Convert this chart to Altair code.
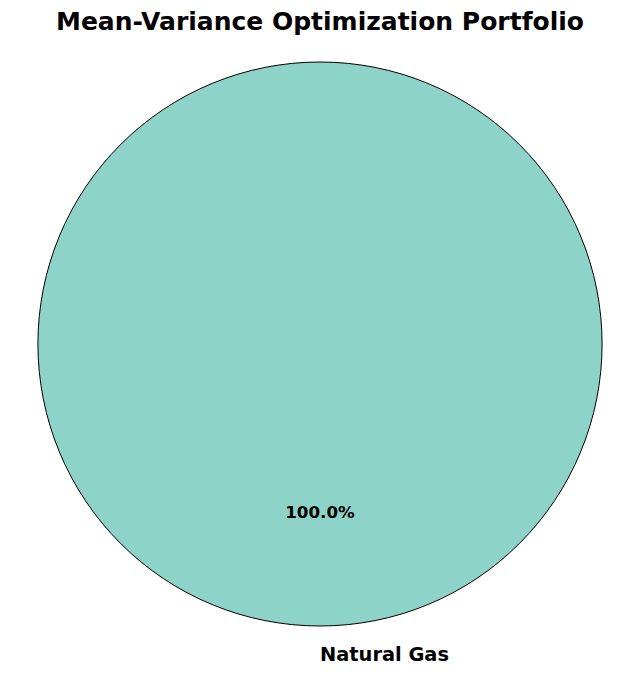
import altair as alt
import pandas as pd

assets = ["Natural Gas"]
weights = [1.0]
pct_labels = ["100.0%"]
colors = ["#8dd3c7"]
title_text = "Mean-Variance Optimization Portfolio"

df = pd.DataFrame({"asset": assets, "weight": weights, "pct": pct_labels})

FONT = "DejaVu Sans"

base = alt.Chart(df).encode(theta=alt.Theta("weight:Q", stack=True))

pie = base.mark_arc(radius=282, stroke="black", strokeWidth=1).encode(
    color=alt.Color("asset:N", scale=alt.Scale(domain=assets, range=colors), legend=None)
)

pct = base.mark_text(
    radius=169, font=FONT, fontSize=16.7, fontWeight="bold",
    color="black", align="center", baseline="middle"
).encode(text="pct:N")

lab = base.mark_text(
    radius=311, font=FONT, fontSize=19.4, fontWeight="bold",
    color="black", align="left", baseline="middle"
).encode(text="asset:N")

title = alt.Chart(pd.DataFrame({"t": [title_text]})).mark_text(
    font=FONT, fontSize=25, fontWeight="bold", color="black",
    align="center", baseline="alphabetic"
).encode(text="t:N", x=alt.value(312), y=alt.value(-18))

chart = alt.layer(pie, pct, lab, title).properties(
    width=624,
    height=592,
    autosize=alt.AutoSizeParams(type="none"),
    padding={"top": 40, "left": 0, "right": 0, "bottom": 34},
).configure_view(stroke=None)

chart.save("out.html", embed_options={"renderer": "svg", "actions": False})
